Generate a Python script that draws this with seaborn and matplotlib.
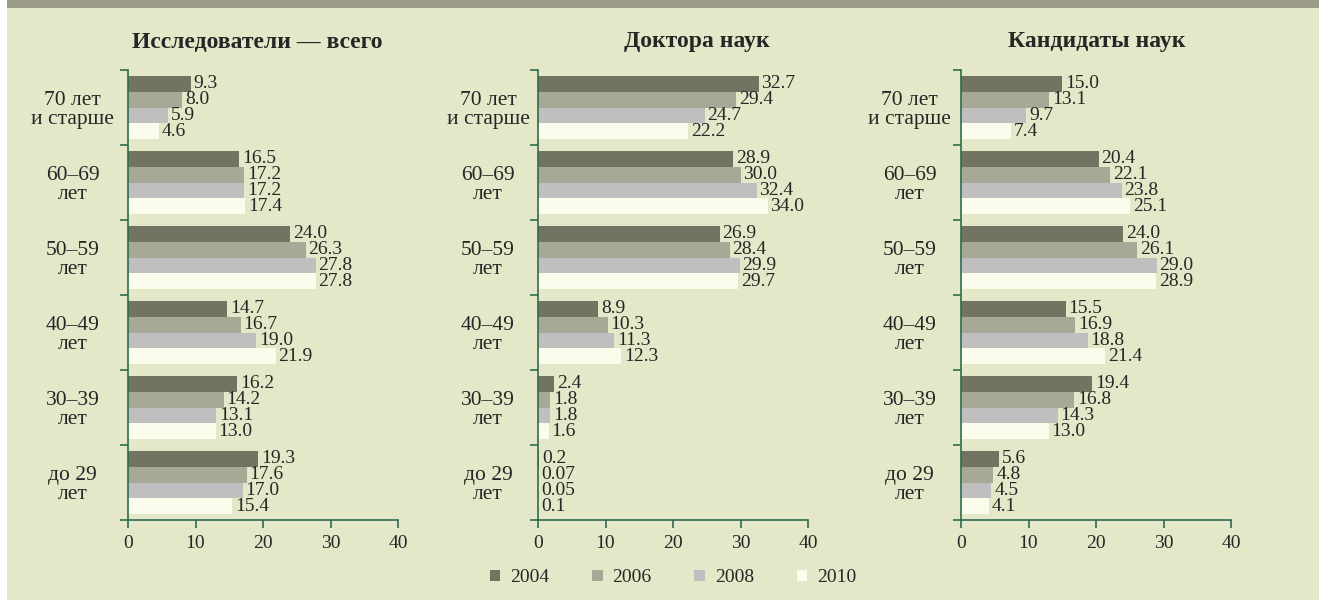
import numpy as np
import pandas as pd
import seaborn as sns
import matplotlib.pyplot as plt
from matplotlib.patches import Rectangle, Patch

# --- данные (из рисунка), строки — возрастные группы, столбцы — годы
ages = ["70 лет\nи старше", "60–69\nлет", "50–59\nлет", "40–49\nлет", "30–39\nлет", "до 29\nлет"]
years = ["2004", "2006", "2008", "2010"]
titles = ["Исследователи — всего", "Доктора наук", "Кандидаты наук"]

researchers_all = [
    [9.3, 8.0, 5.9, 4.6],
    [16.5, 17.2, 17.2, 17.4],
    [24.0, 26.3, 27.8, 27.8],
    [14.7, 16.7, 19.0, 21.9],
    [16.2, 14.2, 13.1, 13.0],
    [19.3, 17.6, 17.0, 15.4],
]
doctors = [
    [32.7, 29.4, 24.7, 22.2],
    [28.9, 30.0, 32.4, 34.0],
    [26.9, 28.4, 29.9, 29.7],
    [8.9, 10.3, 11.3, 12.3],
    [2.4, 1.8, 1.8, 1.6],
    [0.2, 0.07, 0.05, 0.1],
]
candidates = [
    [15.0, 13.1, 9.7, 7.4],
    [20.4, 22.1, 23.8, 25.1],
    [24.0, 26.1, 29.0, 28.9],
    [15.5, 16.9, 18.8, 21.4],
    [19.4, 16.8, 14.3, 13.0],
    [5.6, 4.8, 4.5, 4.1],
]

colors = ["#737362", "#a7a896", "#bfbfbf", "#fbfcec"]
bg = "#e4e8c8"
axis_green = "#2f6b4f"
txt = "#262626"

sns.set_theme(style="white")
plt.rcParams["font.family"] = ["Liberation Serif", "DejaVu Serif"]


def fmt(v):
    return f"{v:.2f}" if v < 0.1 else f"{v:.1f}"


fig = plt.figure(figsize=(13.19, 6.0), dpi=100)
fig.patch.set_facecolor("white")
fig.patches.append(Rectangle((7 / 1319, 0), 1, 1 - 8 / 600, transform=fig.transFigure,
                             facecolor=bg, edgecolor="none", zorder=-10))
fig.patches.append(Rectangle((7 / 1319, 1 - 8 / 600), 1, 8 / 600, transform=fig.transFigure,
                             facecolor="#9c9b88", edgecolor="none", zorder=-10))

panels = [researchers_all, doctors, candidates]
lefts = [128, 538, 961]
label_pad = [40, 36, 37]
title_x = [257, 697, 1097]

for data, left, pad, title, tx in zip(panels, lefts, label_pad, titles, title_x):
    ax = fig.add_axes([left / 1319, 1 - 520 / 600, 270 / 1319, 450 / 600])
    ax.set_facecolor("none")
    rows = [(a, y, data[i][j]) for i, a in enumerate(ages) for j, y in enumerate(years)]
    df = pd.DataFrame(rows, columns=["age", "year", "value"])
    sns.barplot(data=df, y="age", x="value", hue="year", order=ages, hue_order=years,
                palette=colors, saturation=1, width=0.84, orient="h", ax=ax,
                legend=False, linewidth=0)
    for j, cont in enumerate(ax.containers):
        ax.bar_label(cont, labels=[fmt(data[i][j]) for i in range(len(ages))],
                     padding=2, fontsize=14, color=txt)

    ax.set_xlim(0, 40)
    ax.set_xticks([0, 10, 20, 30, 40])
    ax.set_ylim(5.5, -0.5)
    ax.set_yticks(np.arange(-0.5, 6, 1))
    ax.set_yticklabels([])
    ax.set_yticks(range(len(ages)), minor=True)
    ax.set_yticklabels(ages, minor=True, ha="center", fontsize=15.5, color=txt,
                       linespacing=1.0)
    ax.tick_params(axis="y", which="major", left=True, length=6, width=1.2,
                   color=axis_green, direction="out")
    ax.tick_params(axis="y", which="minor", left=True, length=0, pad=pad)
    ax.tick_params(axis="x", bottom=True, length=6, width=1.2, color=axis_green,
                   direction="out", labelsize=14, labelcolor=txt, pad=5)
    ax.set_xlabel("")
    ax.set_ylabel("")
    for s in ["top", "right"]:
        ax.spines[s].set_visible(False)
    for s in ["left", "bottom"]:
        ax.spines[s].set_color(axis_green)
        ax.spines[s].set_linewidth(1.2)

    fig.text(tx / 1319, 1 - 42 / 600, title, ha="center", va="center",
             fontsize=17, fontweight="bold", color=txt)

handles = [Patch(facecolor=c, edgecolor="none", label=y) for c, y in zip(colors, years)]
fig.legend(handles=handles, loc="center", bbox_to_anchor=(673 / 1319, 1 - 578 / 600),
           ncol=4, frameon=False, fontsize=14, handlelength=0.55, handleheight=0.55,
           handletextpad=0.5, columnspacing=2.2, labelcolor=txt)

fig.savefig("out.png", dpi=100, facecolor=fig.get_facecolor())
